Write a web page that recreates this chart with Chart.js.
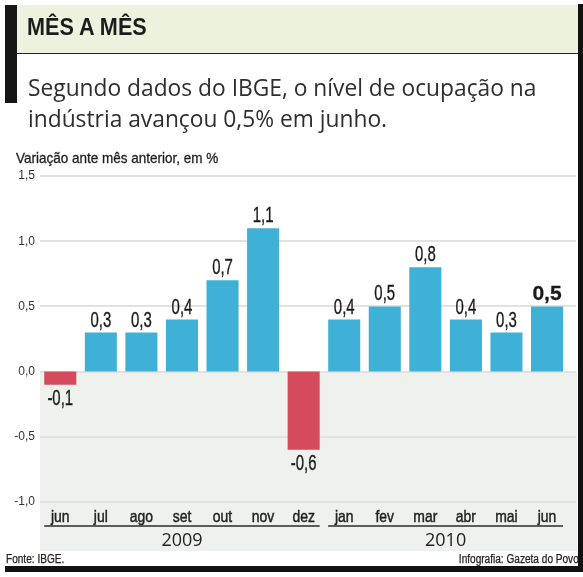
<!DOCTYPE html>
<html>
<head>
<meta charset="utf-8">
<script src="https://cdn.jsdelivr.net/npm/chart.js@4.4.0/dist/chart.umd.min.js"></script>
<style>
  html, body { margin: 0; padding: 0; background: #fff; }
  #wrap { position: relative; width: 583px; height: 577px; overflow: hidden; background: #fff; }
  #c { position: absolute; left: 0; top: 0; }
  .abs { position: absolute; white-space: nowrap; }
  #band { left: 14px; top: 5px; width: 564px; height: 48px; background: #edf2de; border-bottom: 1.5px solid #222; }
  #lbar { left: 5px; top: 5px; width: 12px; height: 98px; background: #161616; }
  #rbar { left: 578px; top: 4px; width: 5px; height: 566px; background: #111; }
  #bline { left: 5px; top: 566px; width: 578px; height: 6px; background: #111; }
  #title { left: 27px; top: 16px; font: bold 23px "Liberation Sans", Arial, sans-serif; line-height: 23px; color: #1c1c1c; transform: scaleX(0.94); transform-origin: 0 0; }
  #sub { left: 28px; top: 72px; font: 23px "Open Sans", sans-serif; line-height: 31px; color: #2e2e2e; transform: scaleX(0.99); transform-origin: 0 0; }
  #ylab { left: 16px; top: 150px; font: 15px "Liberation Sans", Arial, sans-serif; line-height: 15px; color: #1e1e1e; transform: scaleX(0.9); transform-origin: 0 0; -webkit-text-stroke: 0.3px #1e1e1e; }
  #src { left: 6px; top: 553px; font: 12px "Liberation Sans", Arial, sans-serif; line-height: 12px; color: #222; transform: scaleX(0.84); transform-origin: 0 0; -webkit-text-stroke: 0.25px #222; }
  #cred { right: 4px; top: 553px; font: 12px "Liberation Sans", Arial, sans-serif; line-height: 12px; color: #222; transform: scaleX(0.84); transform-origin: 100% 0; -webkit-text-stroke: 0.25px #222; }
</style>
</head>
<body>
<div id="wrap">
  <canvas id="c" width="583" height="577"></canvas>
  <div id="band" class="abs"></div>
  <div id="lbar" class="abs"></div>
  <div id="rbar" class="abs"></div>
  <div id="bline" class="abs"></div>
  <div id="title" class="abs">MÊS A MÊS</div>
  <div id="sub" class="abs">Segundo dados do IBGE, o nível de ocupação na<br>indústria avançou 0,5% em junho.</div>
  <div id="ylab" class="abs">Variação ante mês anterior, em %</div>
  <div id="src" class="abs">Fonte: IBGE.</div>
  <div id="cred" class="abs">Infografia: Gazeta do Povo</div>
</div>
<script>
// ---- data ----
const months = ['jun','jul','ago','set','out','nov','dez','jan','fev','mar','abr','mai','jun'];
const values = [-0.1, 0.3, 0.3, 0.4, 0.7, 1.1, -0.6, 0.4, 0.5, 0.8, 0.4, 0.3, 0.5];
const years = ['2009', '2010'];
const yearFirst = [0, 7];
const yearLast = [6, 12];
const yTickValues = [-1.0, -0.5, 0.0, 0.5, 1.0, 1.5];
const highlightIndex = 12;

// ---- styles ----
const BLUE = '#40b1d6';
const RED = '#d44b5e';
const GRID = '#e2e2e2';
const NEG_BG = '#eff1ed';
const RIGHT_EDGE = 577;
const SANS = '"Liberation Sans", Arial, sans-serif';
const fmt = v => v.toFixed(1).replace('.', ',');

function narrowText(ctx, text, x, y, sx, stroke) {
  ctx.save();
  ctx.translate(x, y);
  ctx.scale(sx, 1);
  ctx.fillText(text, 0, 0);
  if (stroke) {
    ctx.lineWidth = stroke;
    ctx.strokeStyle = ctx.fillStyle;
    ctx.strokeText(text, 0, 0);
  }
  ctx.restore();
}

const bgPlugin = {
  id: 'bgPlugin',
  beforeDraw(chart) {
    const { ctx, chartArea } = chart;
    const y = chart.scales.y;
    const y0 = y.getPixelForValue(0);
    ctx.save();
    ctx.fillStyle = NEG_BG;
    ctx.fillRect(chartArea.left, y0, RIGHT_EDGE - chartArea.left, chartArea.bottom + 49 - y0);
    ctx.strokeStyle = GRID;
    ctx.lineWidth = 2;
    yTickValues.forEach(v => {
      const py = Math.round(y.getPixelForValue(v));
      ctx.beginPath();
      ctx.moveTo(chartArea.left, py);
      ctx.lineTo(RIGHT_EDGE - 1, py);
      ctx.stroke();
    });
    ctx.restore();
  }
};

const labelPlugin = {
  id: 'labelPlugin',
  afterDatasetsDraw(chart) {
    const { ctx, chartArea } = chart;
    const meta = chart.getDatasetMeta(0);
    const xs = chart.scales.x;
    ctx.save();
    ctx.fillStyle = '#1a1a1a';
    ctx.textAlign = 'center';
    ctx.textBaseline = 'middle';
    meta.data.forEach((bar, i) => {
      const v = values[i];
      const ty = v >= 0 ? bar.y - 12 : bar.y + 14;
      if (i === highlightIndex) {
        ctx.font = 'bold 21px ' + SANS;
        narrowText(ctx, fmt(v), bar.x, ty, 1, 0.3);
      } else {
        ctx.font = '22px ' + SANS;
        narrowText(ctx, fmt(v), bar.x, ty, 0.68, 0.35);
      }
    });
    // month tick labels, placed by the x scale
    ctx.fillStyle = '#222';
    ctx.font = '17px ' + SANS;
    xs.ticks.forEach((t, i) => {
      narrowText(ctx, xs.getLabelForValue(t.value), xs.getPixelForTick(i), chartArea.bottom + 15, 0.82, 0.45);
    });
    // year underlines and labels
    ctx.strokeStyle = '#2a2a2a';
    ctx.lineWidth = 1.5;
    ctx.font = '18px "Open Sans", sans-serif';
    years.forEach((yr, k) => {
      const a = meta.data[yearFirst[k]];
      const b = meta.data[yearLast[k]];
      const x0 = a.x - a.width / 2;
      const x1 = b.x + b.width / 2;
      const ly = chartArea.bottom + 24;
      ctx.beginPath();
      ctx.moveTo(x0, ly);
      ctx.lineTo(x1, ly);
      ctx.stroke();
      ctx.fillText(yr, (x0 + x1) / 2, chartArea.bottom + 39);
    });
    ctx.restore();
  }
};

new Chart(document.getElementById('c'), {
  type: 'bar',
  data: {
    labels: months,
    datasets: [{
      data: values,
      backgroundColor: values.map(v => v < 0 ? RED : BLUE),
      borderWidth: 0,
      categoryPercentage: 1.0,
      barPercentage: 0.79
    }]
  },
  options: {
    responsive: false,
    animation: false,
    devicePixelRatio: 1,
    layout: { padding: { left: 0, top: 176, right: 15.7, bottom: 26 } },
    plugins: { legend: { display: false }, tooltip: { enabled: false } },
    scales: {
      x: {
        offset: true,
        grid: { display: false, drawTicks: false },
        border: { display: false },
        ticks: { display: false, autoSkip: false, maxRotation: 0 },
        afterFit(s) { s.height = 49; }
      },
      y: {
        min: -1.0,
        max: 1.5,
        grid: { display: false, drawTicks: false },
        border: { display: false },
        afterBuildTicks(s) { s.ticks = yTickValues.map(v => ({ value: v })); },
        ticks: {
          color: '#333',
          padding: 5,
          font: { family: SANS, size: 12 },
          callback: v => fmt(v)
        },
        afterFit(s) { s.width = 40; }
      }
    }
  },
  plugins: [bgPlugin, labelPlugin]
});
</script>
</body>
</html>
